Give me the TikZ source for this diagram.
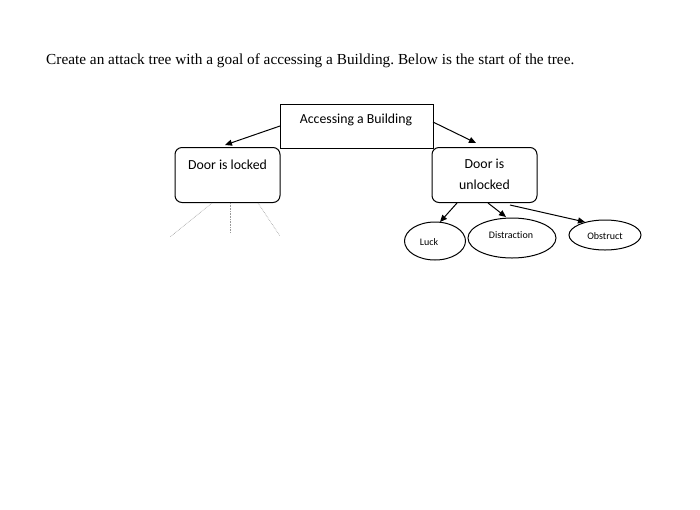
\documentclass[tikz,border=0pt]{standalone}
\usepackage{fontspec}
\setmainfont{Liberation Serif}
\newfontfamily\calfont[Ligatures=NoCommon]{Carlito}
\usetikzlibrary{shapes.geometric,arrows.meta}
\frenchspacing
\begin{document}
\begin{tikzpicture}[x=1pt,y=-1pt,
  sqbox/.style={draw,line width=1pt,minimum width=153pt,minimum height=44pt,anchor=north west,inner sep=0pt},
  rbox/.style={draw,line width=1pt,rounded corners=7pt,minimum width=105pt,minimum height=55pt,inner sep=0pt},
  leaf/.style={draw,ellipse,line width=1pt,inner sep=0pt},
  big/.style={font=\calfont\fontsize{13.8}{16}\selectfont},
  small/.style={font=\calfont\fontsize{10}{12}\selectfont},
  arr/.style={-{Triangle[length=7pt,width=6pt]},line width=1pt},
  dots/.style={gray!80,densely dotted,line width=0.6pt}]
\useasboundingbox (0,0) rectangle (700,509);
\fill[white] (0,0) rectangle (700,509);
\node[anchor=west,font=\frenchspacing\fontsize{15.3}{17}\selectfont,inner sep=0pt] (title) at (46,61) {Create an attack tree with a goal of accessing a Building. Below is the start of the tree.};
\node[sqbox] (root) at (280,104) {};
\node[big] (roott) at (356,120) {Accessing a Building};
\node[rbox] (lock) at (227.5,175) {};
\node[big] (lockt) at (227.5,165) {Door is locked};
\node[rbox] (unlock) at (484.5,175) {};
\node[big] (unlockt1) at (484.5,164) {Door is};
\node[big] (unlockt2) at (484.5,185) {unlocked};
\node[leaf,minimum width=61pt,minimum height=38pt] (luck) at (435,241) {};
\node[small] (luckt) at (429,242) {Luck};
\node[leaf,minimum width=88pt,minimum height=40pt] (dist) at (512,238) {};
\node[small] (distt) at (511,235) {Distraction};
\node[leaf,minimum width=72pt,minimum height=30pt] (obs) at (605,235) {};
\node[small] (obst) at (605,236) {Obstruct};
\coordinate (rl) at (280,126);
\coordinate (rr) at (433,122);
\coordinate (a1) at (225,145);
\coordinate (a2) at (476,143);
\draw[arr] (rl) -- (a1);
\draw[arr] (rr) -- (a2);
\coordinate (u1) at (457,203);
\coordinate (u2) at (488,203);
\coordinate (u3) at (510,205);
\coordinate (t1) at (440,222);
\coordinate (t2) at (506,217);
\coordinate (t3) at (585,222);
\draw[arr] (u1) -- (t1);
\draw[arr] (u2) -- (t2);
\draw[arr] (u3) -- (t3);
\coordinate (d1s) at (212,203);
\coordinate (d1e) at (170,237);
\coordinate (d2s) at (230,203);
\coordinate (d2e) at (230,233);
\coordinate (d3s) at (258,203);
\coordinate (d3e) at (280,236);
\draw[dots] (d1s) -- (d1e);
\draw[dots] (d2s) -- (d2e);
\draw[dots] (d3s) -- (d3e);
\end{tikzpicture}
\end{document}
